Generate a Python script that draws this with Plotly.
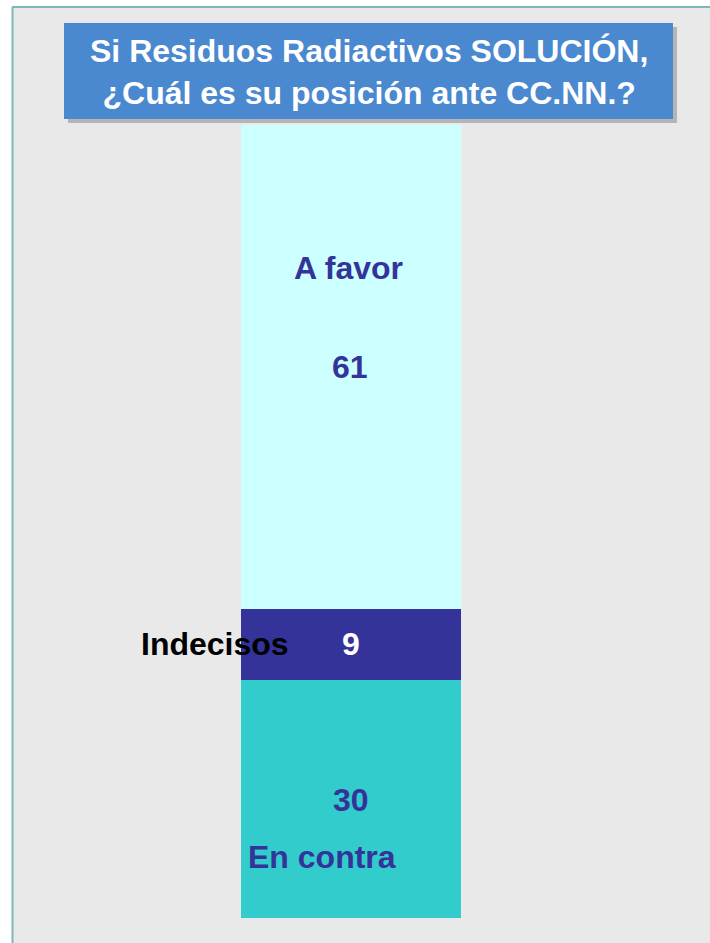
import plotly.graph_objects as go

categories = ["En contra", "Indecisos", "A favor"]
values = [30, 9, 61]
colors = ["#33CCCC", "#333399", "#CCFFFF"]
value_colors = ["#333399", "#FFFFFF", "#333399"]
title_lines = ["Si Residuos Radiactivos SOLUCIÓN,", "¿Cuál es su posición ante CC.NN.?"]

W, H = 710, 943
bar_bottom_px, bar_top_px = 918, 125
scale = (bar_bottom_px - bar_top_px) / 100.0
y_lo = -(H - bar_bottom_px) / scale
y_hi = bar_bottom_px / scale

fig = go.Figure()
for cat, v, c in zip(categories, values, colors):
    fig.add_trace(go.Bar(x=[351], y=[v], name=cat, marker=dict(color=c, line=dict(width=0)),
                         width=220, hoverinfo="skip"))

font = "Liberation Sans, Arial, sans-serif"
FS = 32
cum = 0
mids = []
for v in values:
    mids.append(cum + v / 2)
    cum += v

ann = []
ann.append(dict(x=351, y=14.9, text="<b>%d</b>" % values[0], font=dict(color=value_colors[0], size=FS)))
ann.append(dict(x=322, y=7.7, text="<b>En contra</b>", font=dict(color="#333399", size=FS)))
ann.append(dict(x=351, y=mids[1], text="<b>%d</b>" % values[1], font=dict(color=value_colors[1], size=FS)))
ann.append(dict(x=215, y=mids[1], text="<b>Indecisos</b>", font=dict(color="#000000", size=FS)))
ann.append(dict(x=348, y=82.0, text="<b>A favor</b>", font=dict(color="#333399", size=FS)))
ann.append(dict(x=350, y=69.5, text="<b>%d</b>" % values[2], font=dict(color=value_colors[2], size=FS)))
for a in ann:
    a.update(xref="x", yref="y", showarrow=False, xanchor="center", yanchor="middle")
    a["font"]["family"] = font

def py(p):
    return 1 - p / H

shapes = [
    dict(type="rect", xref="paper", yref="paper", x0=12 / W, x1=1.01, y0=-0.01, y1=py(7),
         fillcolor="#E9E9E9", line=dict(width=0), layer="below"),
    dict(type="line", xref="paper", yref="paper", x0=12.5 / W, x1=12.5 / W, y0=-0.01, y1=py(7),
         line=dict(color="#7FB5BD", width=2), layer="below"),
    dict(type="line", xref="paper", yref="paper", x0=12 / W, x1=1.01, y0=py(7), y1=py(7),
         line=dict(color="#7FB5BD", width=2), layer="below"),
    dict(type="rect", xref="paper", yref="paper", x0=68 / W, x1=677 / W, y0=py(123), y1=py(27),
         fillcolor="#B5B5B5", line=dict(width=0), layer="above"),
    dict(type="rect", xref="paper", yref="paper", x0=64 / W, x1=673 / W, y0=py(119), y1=py(23),
         fillcolor="#4A88D0", line=dict(width=0), layer="above"),
]

ann.append(dict(xref="paper", yref="paper", x=(64 + 673) / 2 / W, y=py(72),
                text="<b>" + "<br>".join(title_lines) + "</b>", showarrow=False,
                xanchor="center", yanchor="middle", align="center",
                font=dict(family=font, size=32, color="#FFFFFF")))

fig.update_layout(
    width=W, height=H, margin=dict(l=0, r=0, t=0, b=0),
    barmode="stack", showlegend=False,
    paper_bgcolor="#FFFFFF", plot_bgcolor="rgba(0,0,0,0)",
    xaxis=dict(range=[0, W], visible=False, fixedrange=True),
    yaxis=dict(range=[y_lo, y_hi], visible=False, fixedrange=True),
    shapes=shapes, annotations=ann,
)
fig.write_html("out.html", config={"displayModeBar": False},
               post_script="document.body.style.margin='0';document.body.style.overflow='hidden';")
